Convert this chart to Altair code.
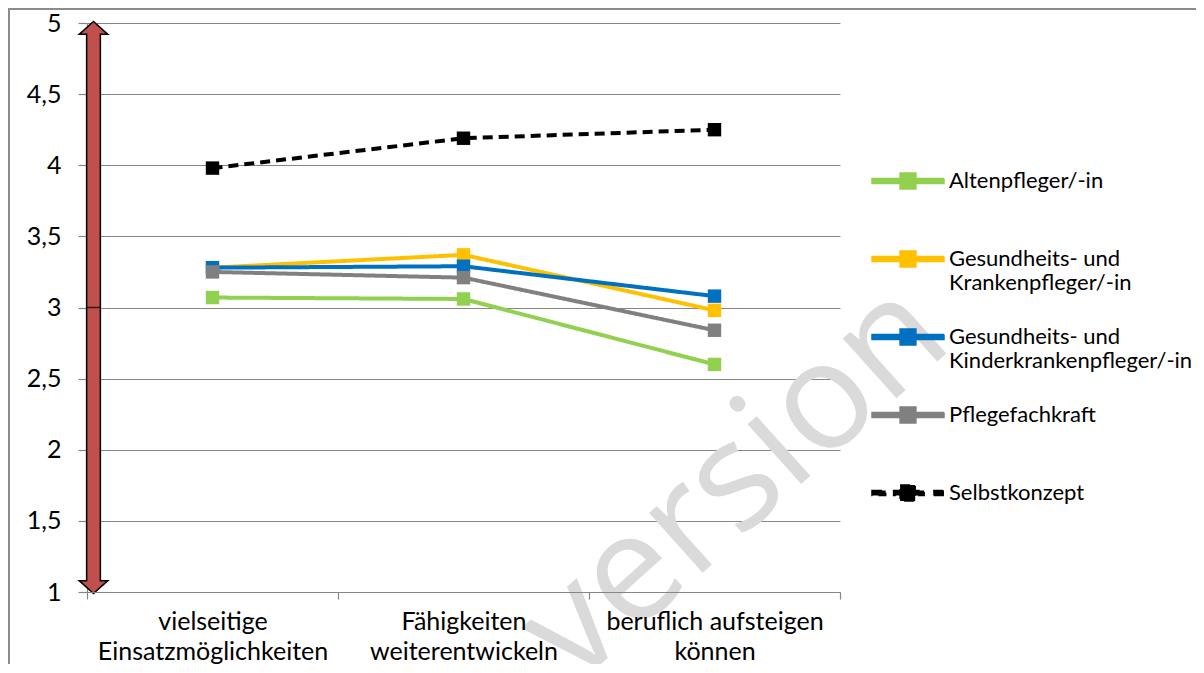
import altair as alt
import pandas as pd

categories = ["vielseitige\nEinsatzmöglichkeiten", "Fähigkeiten\nweiterentwickeln", "beruflich aufsteigen\nkönnen"]
series = ["Altenpfleger/-in", "Gesundheits- und Krankenpfleger/-in",
          "Gesundheits- und Kinderkrankenpfleger/-in", "Pflegefachkraft", "Selbstkonzept"]
colors = ["#92D050", "#FFC000", "#0070C0", "#808080", "#000000"]
alten = [3.07, 3.06, 2.60]
guk = [3.28, 3.37, 2.98]
gukk = [3.28, 3.29, 3.08]
pflege = [3.25, 3.21, 2.84]
selbst = [3.98, 4.19, 4.25]
y_ticks = [1, 1.5, 2, 2.5, 3, 3.5, 4, 4.5, 5]

rows = []
for name, vals in zip(series, [alten, guk, gukk, pflege, selbst]):
    for i, (c, v) in enumerate(zip(categories, vals)):
        rows.append({"Kategorie": c, "Gruppe": name, "Wert": v, "idx": i})
df = pd.DataFrame(rows)

FONT = "Lato"
solid_sym = "M-1,-0.07L1,-0.07L1,0.07L-1,0.07Z M-0.22,-0.22L0.22,-0.22L0.22,0.22L-0.22,0.22Z"
dash_sym = ("M-1,-0.07L-0.62,-0.07L-0.62,0.07L-1,0.07Z "
            "M-0.4,-0.07L0.45,-0.07L0.45,0.07L-0.4,0.07Z "
            "M-0.22,-0.22L0.2,-0.22L0.2,0.22L-0.22,0.22Z "
            "M0.7,-0.07L1,-0.07L1,0.07L0.7,0.07Z")
arrow_sym = ("M0,-1L0.05,-0.955L0.024,-0.955L0.024,0.955L0.05,0.955L0,1"
             "L-0.05,0.955L-0.024,0.955L-0.024,-0.955L-0.05,-0.955Z")

x_enc = alt.X("Kategorie:N", sort=categories,
              scale=alt.Scale(paddingInner=0, paddingOuter=0),
              axis=alt.Axis(title=None, labelAngle=0, tickBand="extent", grid=False,
                            labelExpr="split(datum.label, '\\n')", labelLineHeight=30,
                            labelFontSize=25, labelPadding=10, tickSize=7,
                            labelLimit=400, labelBaseline="top", zindex=1))
y_enc = alt.Y("Wert:Q", scale=alt.Scale(domain=[1, 5], nice=False, zero=False),
              axis=alt.Axis(title=None, values=y_ticks, grid=True,
                            labelExpr="replace(toString(datum.value), '.', ',')",
                            labelFontSize=25, labelPadding=17, tickSize=9))
color_scale = alt.Scale(domain=series, range=colors)

base = alt.Chart(df)

lines = base.mark_line(strokeWidth=4).encode(
    x=x_enc, y=y_enc,
    color=alt.Color("Gruppe:N", scale=color_scale, legend=None),
    strokeDash=alt.StrokeDash("Gruppe:N", scale=alt.Scale(domain=series,
                              range=[[1, 0], [1, 0], [1, 0], [1, 0], [10, 6]]), legend=None),
    detail="Gruppe:N",
)

squares = base.mark_square(size=180, opacity=1).encode(
    x=x_enc, y=y_enc,
    color=alt.Color("Gruppe:N", scale=color_scale, legend=None),
)

leg = dict(title=None, orient="none", legendX=784, legendY=121,
           labelFont=FONT, labelFontSize=22, labelColor="black",
           labelLimit=400, labelOffset=4, rowPadding=6, symbolSize=5184,
           symbolOpacity=1, padding=0,
           labelExpr=("indexof(datum.label, 'und ') >= 0 ? "
                      "split(replace(datum.label, 'und ', 'und|'), '|') : [datum.label, '']"))

legend_layer = base.transform_filter("false").mark_point(
    filled=True, size=5184, opacity=1, strokeWidth=0).encode(
    x=x_enc, y=y_enc,
    color=alt.Color("Gruppe:N", scale=color_scale, legend=alt.Legend(**leg)),
    shape=alt.Shape("Gruppe:N", scale=alt.Scale(domain=series,
                    range=[solid_sym, solid_sym, solid_sym, solid_sym, dash_sym]),
                    legend=alt.Legend(**leg)),
)

one = pd.DataFrame({"a": [0]})

arrow = alt.Chart(one).mark_point(
    shape=arrow_sym, filled=True, fill="#C0504D", stroke="black", strokeWidth=1.5,
    size=572 * 572, opacity=1).encode(
    x=alt.value(6.5), y=alt.datum(3))

arrow_mid = alt.Chart(one).mark_tick(color="black", thickness=1.5, size=13, orient="horizontal").encode(
    x=alt.value(6.5), y=alt.datum(3))

watermark = alt.Chart(one).mark_text(
    text="version", angle=318, fontSize=150, font="Open Sans", color="#DADADA").encode(
    x=alt.value(648), y=alt.value(460))

frame_v = alt.Chart(one).mark_rule(color="#8C8C8C", strokeWidth=2).encode(
    x=alt.value(-78), y=alt.value(-15), y2=alt.value(700))
frame_h = alt.Chart(one).mark_rule(color="#8C8C8C", strokeWidth=2).encode(
    x=alt.value(-79), x2=alt.value(1120), y=alt.value(-14))

chart = alt.layer(
    legend_layer, watermark, lines, squares, arrow, arrow_mid, frame_v, frame_h
).properties(
    width=753, height=569,
    padding={"left": 79, "top": 15, "right": 356, "bottom": 72},
    autosize=alt.AutoSizeParams(type="none"),
).configure_view(stroke=None).configure_axis(
    labelFont=FONT, labelColor="black", domainColor="#868686", tickColor="#868686",
    gridColor="#868686", gridWidth=1, domainWidth=1.2, tickWidth=1.2,
).configure_legend(labelFont=FONT)

chart.save("out.html", embed_options={"renderer": "svg", "actions": False})
